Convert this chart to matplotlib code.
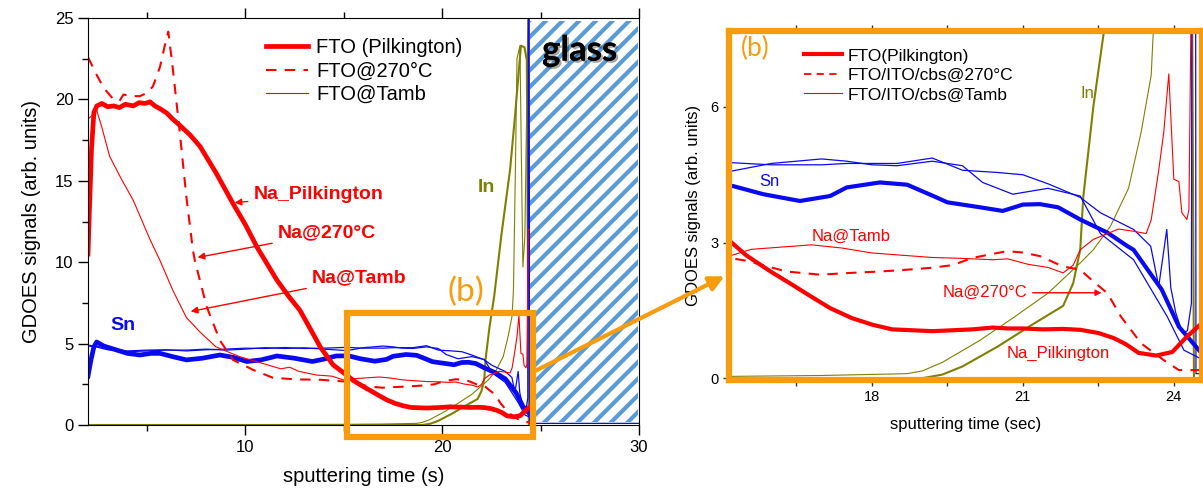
import numpy as np
import matplotlib
matplotlib.use("Agg")
import matplotlib.pyplot as plt
from matplotlib.patches import Rectangle, FancyArrowPatch
from matplotlib.lines import Line2D
import matplotlib.patheffects as pe

plt.rcParams['font.family'] = ['Liberation Sans', 'DejaVu Sans']
plt.rcParams['hatch.linewidth'] = 3.0

RED = '#ff0000'
BLUE = '#0a0af0'
OLIVE = '#808000'
ORANGE = '#f89c0e'
GLASS = '#5b9bd5'

# ---- GDOES depth profiles (time in s, signal in arb. units) ----
# Na, FTO (Pilkington)
t_na_pil = [2.0, 2.08, 2.18, 2.3, 2.45, 2.7, 3.0, 3.3, 3.6, 3.9, 4.3, 4.6, 4.9, 5.15,
            5.4, 5.7, 6.0, 6.3, 6.67, 7.2, 7.7, 8.5, 9.37, 10.0, 10.6, 11.1, 11.6, 12.2,
            12.76, 13.3, 13.8, 14.45, 15.16, 15.5, 16.0, 16.37, 16.8, 17.17, 17.6, 18.02,
            18.4, 18.8, 19.2, 19.6, 20.0, 20.4, 20.7, 21.0, 21.4, 21.8, 22.14, 22.5, 22.8,
            23.05, 23.3, 23.65, 23.97, 24.26, 24.52]
na_pil = [10.5, 13.5, 17.0, 19.2, 19.6, 19.75, 19.55, 19.6, 19.5, 19.7, 19.6, 19.8, 19.75,
          19.85, 19.6, 19.4, 19.16, 18.8, 18.4, 17.8, 17.1, 15.5, 13.6, 12.3, 10.9, 9.9,
          8.9, 7.9, 7.06, 5.9, 4.8, 3.7, 3.05, 2.72, 2.35, 2.1, 1.8, 1.55, 1.33, 1.18,
          1.08, 1.06, 1.04, 1.06, 1.08, 1.12, 1.1, 1.1, 1.08, 1.09, 1.07, 1.0, 0.89,
          0.75, 0.56, 0.5, 0.58, 0.92, 1.18]

# Na, FTO/ITO/cbs @ 270 C
t_na_270 = [2.0, 2.4, 2.8, 3.3, 3.6, 3.8, 4.2, 4.64, 5.0, 5.3, 5.66, 5.9, 6.08, 6.3, 6.67,
            7.0, 7.33, 7.43, 8.03, 8.7, 9.37, 10.4, 11.4, 12.6, 13.8, 15.16, 15.5, 16.3,
            16.97, 17.6, 18.16, 18.7, 19.16, 19.6, 20.0, 20.4, 20.69, 21.0, 21.34, 21.8,
            22.14, 22.4, 22.68, 22.95, 23.35, 23.8, 24.1, 24.52]
na_270 = [22.6, 21.6, 20.7, 20.0, 19.9, 20.3, 20.2, 20.2, 20.4, 20.8, 22.0, 23.3, 24.16,
          22.0, 17.9, 14.0, 10.75, 10.1, 7.27, 5.2, 4.0, 3.38, 2.9, 2.8, 2.78, 2.66, 2.6,
          2.36, 2.29, 2.33, 2.36, 2.4, 2.44, 2.5, 2.66, 2.75, 2.81, 2.78, 2.7, 2.47, 2.4,
          2.14, 1.88, 1.36, 0.77, 0.4, 0.18, 0.18]

# Na, FTO/ITO/cbs @ Tamb
t_na_amb = [2.0, 2.2, 2.4, 2.7, 3.1, 3.7, 4.3, 5.15, 5.66, 6.3, 7.0, 7.7, 8.5, 9.7, 11.1,
            11.8, 12.25, 12.7, 13.6, 14.4, 15.16, 15.6, 16.2, 16.8, 17.4, 18.0, 18.6, 19.2,
            19.8, 20.4, 20.7, 21.1, 21.5, 21.8, 22.0, 22.14, 22.4, 22.9, 23.2, 23.45,
            23.55, 23.7, 23.8, 23.9, 24.0, 24.1, 24.16, 24.26, 24.3, 24.38, 24.44]
na_amb = [18.8, 19.0, 19.5, 18.3, 16.5, 15.1, 13.8, 11.4, 10.1, 8.3, 6.6, 5.7, 4.8, 4.2,
          3.7, 3.45, 3.55, 3.3, 3.07, 3.0, 2.7, 2.85, 2.9, 2.95, 2.88, 2.77, 2.72, 2.67,
          2.65, 2.62, 2.64, 2.52, 2.45, 2.33, 2.5, 2.84, 3.07, 3.3, 3.25, 3.2, 3.5, 4.6,
          5.44, 6.73, 4.4, 4.35, 3.66, 3.51, 3.73, 12.0, 12.0]

# Sn, FTO (Pilkington)
t_sn_pil = [2.0, 2.15, 2.3, 2.44, 2.8, 3.47, 4.0, 4.64, 5.2, 5.66, 6.3, 7.0, 7.8, 8.7, 9.4,
            10.07, 10.8, 11.6, 12.5, 13.4, 14.0, 14.6, 15.24, 15.84, 16.57, 17.17, 17.5,
            18.16, 18.7, 19.22, 19.5, 20.15, 20.6, 21.0, 21.34, 21.7, 22.14, 22.68, 23.08,
            23.2, 23.76, 24.1, 24.5]
sn_pil = [3.0, 4.0, 4.8, 5.1, 4.85, 4.6, 4.4, 4.3, 4.4, 4.4, 4.2, 4.0, 4.1, 4.3, 4.15, 3.9,
          4.0, 4.24, 4.1, 3.9, 4.05, 4.24, 4.25, 4.07, 3.92, 4.03, 4.22, 4.33, 4.28, 4.03,
          3.89, 3.78, 3.7, 3.84, 3.85, 3.78, 3.51, 3.22, 2.92, 2.84, 1.96, 1.14, 0.62]

# Sn, FTO/ITO/cbs @ 270 C
t_sn_270 = [2.0, 2.4, 3.0, 4.0, 5.0, 6.0, 7.0, 8.0, 9.0, 10.0, 11.0, 12.0, 13.0, 14.0,
            15.16, 16.0, 17.0, 17.5, 18.0, 18.5, 19.2, 19.8, 20.5, 21.0, 21.5, 22.14,
            22.54, 23.2, 23.54, 23.7, 23.86, 23.94, 24.04, 24.17, 24.27, 24.35, 24.38,
            24.42, 24.44, 30.0]
sn_270 = [4.9, 4.85, 4.7, 4.55, 4.6, 4.62, 4.55, 4.62, 4.66, 4.72, 4.7, 4.76, 4.7, 4.72,
          4.77, 4.72, 4.72, 4.75, 4.75, 4.75, 4.87, 4.6, 4.55, 4.5, 4.3, 4.0, 3.66, 3.29,
          2.92, 2.03, 3.29, 2.0, 1.44, 1.0, 1.05, 1.66, 26.0, 26.0, 0.1, 0.1]

# Sn, FTO/ITO/cbs @ Tamb
t_sn_amb = [2.0, 2.4, 3.0, 4.0, 5.0, 6.0, 7.0, 8.0, 9.0, 10.0, 11.0, 12.0, 13.0, 14.0,
            15.16, 16.0, 16.5, 17.0, 17.5, 18.0, 18.5, 19.2, 19.8, 20.2, 20.8, 21.5, 22.14,
            22.54, 23.2, 23.87, 24.2, 24.52]
sn_amb = [4.85, 4.8, 4.62, 4.5, 4.55, 4.6, 4.6, 4.66, 4.6, 4.66, 4.75, 4.7, 4.74, 4.66,
          4.57, 4.75, 4.8, 4.85, 4.8, 4.72, 4.7, 4.8, 4.7, 4.33, 4.07, 4.2, 4.03, 3.2,
          2.62, 1.36, 0.62, 0.44]

# In, two ITO samples
t_in_a = [2.0, 19.0, 19.4, 19.8, 20.5, 21.15, 21.8, 22.0, 22.14, 22.2, 22.4, 22.64, 23.0,
          23.45, 23.7, 24.0, 24.18, 24.3, 24.4]
in_a = [0.0, 0.0, 0.08, 0.26, 0.7, 1.16, 1.6, 2.1, 2.84, 4.0, 6.0, 7.9, 11.6, 15.7, 19.0,
        23.3, 23.2, 22.4, 0.0]
t_in_b = [2.0, 15.16, 17.0, 18.7, 19.0, 19.4, 20.15, 20.8, 21.5, 22.14, 22.4, 22.74, 23.1,
          23.35, 23.55, 23.62, 23.72, 23.8, 23.95, 24.05, 24.1, 24.2, 24.3, 24.36, 24.4]
in_b = [0.0, 0.04, 0.06, 0.1, 0.16, 0.35, 0.84, 1.33, 1.88, 2.55, 2.84, 3.36, 4.2, 5.44,
        6.7, 8.3, 15.7, 22.5, 23.3, 14.0, 9.7, 11.6, 20.0, 26.0, 26.0]

legend_left = ['FTO (Pilkington)', 'FTO@270°C', 'FTO@Tamb']
legend_right = ['FTO(Pilkington)', 'FTO/ITO/cbs@270°C', 'FTO/ITO/cbs@Tamb']


def draw_profiles(ax, lw_thick):
    ax.plot(t_in_b, in_b, color=OLIVE, lw=0.8, zorder=2)
    ax.plot(t_in_a, in_a, color=OLIVE, lw=1.5, zorder=2)
    ax.plot(t_sn_amb, sn_amb, color=BLUE, lw=0.9, zorder=2)
    ax.plot(t_sn_270, sn_270, color=BLUE, lw=0.9, zorder=2)
    ax.plot(t_sn_pil, sn_pil, color=BLUE, lw=lw_thick, zorder=2)
    ax.plot(t_na_amb, na_amb, color=RED, lw=0.8, zorder=2)
    ax.plot(t_na_270, na_270, color=RED, lw=1.5, ls=(0, (5, 4)), zorder=2)
    ax.plot(t_na_pil, na_pil, color=RED, lw=lw_thick, zorder=2)


fig = plt.figure(figsize=(12.03, 4.90), dpi=100)

# ---------------- left panel: full profile ----------------
ax = fig.add_axes([88/1203, 1-425/490, 551/1203, 407/490])
draw_profiles(ax, 3.4)
ax.set_xlim(2, 30)
ax.set_ylim(0, 25)
ax.set_xticks([10, 20, 30])
ax.set_xticks([5, 15, 25], minor=True)
ax.set_yticks([0, 5, 10, 15, 20, 25])
ax.set_yticks([2.5, 7.5, 12.5, 17.5, 22.5], minor=True)
ax.tick_params(which='both', direction='out', top=True, labelsize=12, width=1)
ax.tick_params(which='major', length=7)
ax.tick_params(which='minor', length=4)
ax.set_xlabel('sputtering time (s)', fontsize=14.5, labelpad=9)
ax.set_ylabel('GDOES signals (arb. units)', fontsize=14.5, labelpad=10)

glass = Rectangle((24.44, 0.2), 5.5, 24.6, facecolor='white', edgecolor=GLASS,
                  hatch='//', lw=0, zorder=3)
ax.add_patch(glass)
ax.text(26.98, 23.0, 'glass', fontsize=25, fontweight='bold', family='Lato',
        ha='center', va='center', zorder=5,
        path_effects=[pe.withSimplePatchShadow(offset=(1.5, -1.5), alpha=0.35),
                      pe.Normal()])

zoom_box = Rectangle((15.15, -0.74), 9.45, 7.62, fill=False, edgecolor=ORANGE,
                     lw=4.5, zorder=4, clip_on=False)
ax.add_patch(zoom_box)
ax.text(21.2, 8.2, '(b)', color=ORANGE, fontsize=24, ha='center', va='center',
        family='Lato', zorder=5)

handles = [Line2D([], [], color=RED, lw=3.4),
           Line2D([], [], color=RED, lw=1.5, ls=(0, (5, 4))),
           Line2D([], [], color=RED, lw=0.8)]
ax.legend(handles, legend_left, loc='upper left', bbox_to_anchor=(0.29, 0.995),
          frameon=False, fontsize=14.5, handlelength=2.1, handletextpad=0.4,
          labelspacing=0.22)

arrow_kw = dict(arrowstyle='-|>', color=RED, lw=1, mutation_scale=10)
ax.annotate('Na_Pilkington', xy=(9.31, 13.64), xytext=(10.4, 14.13), color=RED,
            fontsize=14, fontweight='bold', va='center', arrowprops=arrow_kw)
ax.annotate('Na@270°C', xy=(7.43, 10.26), xytext=(11.64, 11.8), color=RED,
            fontsize=14, fontweight='bold', va='center', arrowprops=arrow_kw)
ax.annotate('Na@Tamb', xy=(7.08, 6.94), xytext=(13.37, 9.03), color=RED,
            fontsize=14, fontweight='bold', va='center', arrowprops=arrow_kw)
ax.text(3.12, 6.14, 'Sn', color=BLUE, fontsize=14, fontweight='bold', va='center')
ax.text(21.8, 14.56, 'In', color=OLIVE, fontsize=14, fontweight='bold', va='center')

# ---------------- right panel: zoom on the interface ----------------
bx = fig.add_axes([729/1203, 1-380/490, 473/1203, 349/490])
draw_profiles(bx, 3.0)
bx.set_xlim(15.16, 24.56)
bx.set_ylim(-0.04, 7.68)
bx.set_xticks([18, 21, 24])
bx.set_xticks([16.5, 19.5, 22.5], minor=True)
bx.set_yticks([0, 3, 6])
for s in bx.spines.values():
    s.set_color(ORANGE)
    s.set_linewidth(4.5)
bx.tick_params(which='both', direction='out', top=True, labelsize=10.5, length=4,
               width=1, color='#333333')
bx.set_xlabel('sputtering time (sec)', fontsize=12, labelpad=9)
bx.set_ylabel('GDOES signals (arb. units)', fontsize=12, labelpad=7)
bx.text(15.68, 7.29, '(b)', color=ORANGE, fontsize=19, ha='center', va='center',
        family='Lato')

handles_b = [Line2D([], [], color=RED, lw=3.0),
             Line2D([], [], color=RED, lw=1.3, ls=(0, (4, 3))),
             Line2D([], [], color=RED, lw=0.8)]
bx.legend(handles_b, legend_right, loc='upper left', bbox_to_anchor=(0.125, 0.995),
          frameon=False, fontsize=12.5, handlelength=2.2, handletextpad=0.35,
          labelspacing=0.25)

bx.text(15.76, 4.36, 'Sn', color=BLUE, fontsize=12, va='center')
bx.text(16.81, 3.14, 'Na@Tamb', color=RED, fontsize=12, va='center')
bx.annotate('Na@270°C', xy=(22.62, 1.89), xytext=(19.4, 1.89), color=RED,
            fontsize=12, va='center', arrowprops=dict(arrowstyle='-|>', color=RED,
                                                        lw=1, mutation_scale=9))
bx.text(20.67, 0.55, 'Na_Pilkington', color=RED, fontsize=12, va='center')
bx.text(22.14, 6.29, 'In', color=OLIVE, fontsize=12, va='center')

# link between the box and the zoomed panel
link = FancyArrowPatch((533/1203, 1-372/490), (727/1203, 1-275/490),
                       transform=fig.transFigure, arrowstyle='-|>', color=ORANGE,
                       lw=3, mutation_scale=22)
fig.patches.append(link)

fig.savefig('out.png', dpi=100)
